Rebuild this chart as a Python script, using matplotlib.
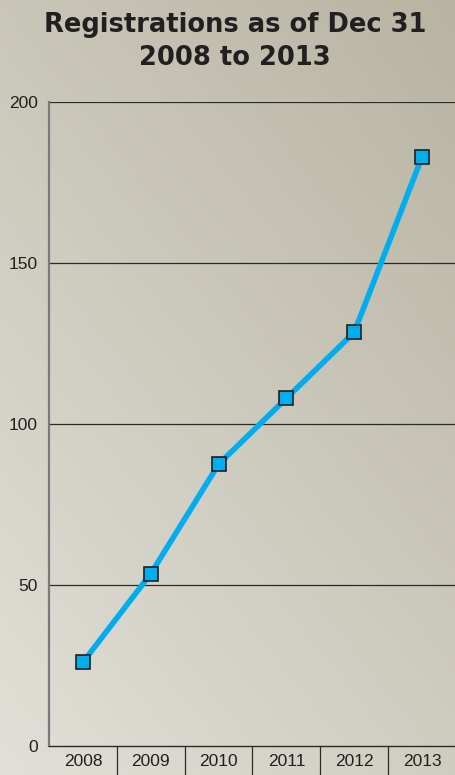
import matplotlib
matplotlib.use("Agg")
import matplotlib.pyplot as plt
import numpy as np
from matplotlib.colors import LinearSegmentedColormap

years = ["2008", "2009", "2010", "2011", "2012", "2013"]
registrations = [26, 53.5, 87.5, 108, 128.5, 183]
y_ticks = [0, 50, 100, 150, 200]

W, H = 456, 775
fig = plt.figure(figsize=(W/100, H/100), dpi=100)

# background gradient
bg = fig.add_axes([0, 0, 1, 1], zorder=-10)
xx, yy = np.meshgrid(np.linspace(0, 1, 200), np.linspace(0, 1, 300))
g = np.clip(0.55*xx + 0.75*(1-yy), 0, 1.3) / 1.3
cmap = LinearSegmentedColormap.from_list("bg", ["#e1e0d8", "#b8b4a2"])
bg.imshow(g, cmap=cmap, aspect="auto", origin="upper", extent=[0, 1, 0, 1])
bg.axis("off")

ax = fig.add_axes([49/W, 1-746/H, 1-49/W, (746-102)/H])
ax.patch.set_alpha(0)
x = np.arange(len(years))
ax.plot(x, registrations, color="#00aeef", lw=4, zorder=3, solid_capstyle="butt")
ax.plot(x, registrations, ls="none", marker="s", ms=9.5, mfc="#00aeef",
        mec="#1f1f1f", mew=1.2, zorder=4)

ax.set_xlim(-0.5, len(years)-0.5)
ax.set_ylim(0, 200)
ax.set_yticks(y_ticks)
ax.set_yticklabels([str(v) for v in y_ticks], fontsize=12.5, color="#231f20",
                   family="Liberation Sans")
ax.tick_params(axis="y", length=0, pad=8)
for v in y_ticks[1:]:
    ax.axhline(v, color="#2a2a2a", lw=0.9, zorder=1)

ax.set_xticks(x)
ax.set_xticklabels(years, fontsize=12.5, color="#231f20", family="Liberation Sans")
ax.tick_params(axis="x", which="major", length=0, pad=6)
ax.set_xticks(np.arange(0.5, len(years)-0.5, 1), minor=True)
ax.tick_params(axis="x", which="minor", length=22, width=0.9, color="#2a2a2a")

for s in ["top", "right"]:
    ax.spines[s].set_visible(False)
ax.spines["left"].set_color("#7a7a7a")
ax.spines["left"].set_linewidth(1.6)
ax.spines["bottom"].set_color("#2a2a2a")
ax.spines["bottom"].set_linewidth(1.0)

fig.text(235/W, 1-25/H, "Registrations as of Dec 31", ha="center", va="center",
         fontsize=18.5, fontweight="heavy", color="#231f20", family="DejaVu Sans")
fig.text(235/W, 1-58/H, "2008 to 2013", ha="center", va="center",
         fontsize=18.5, fontweight="heavy", color="#231f20", family="DejaVu Sans")

fig.savefig("out.png", dpi=100)
